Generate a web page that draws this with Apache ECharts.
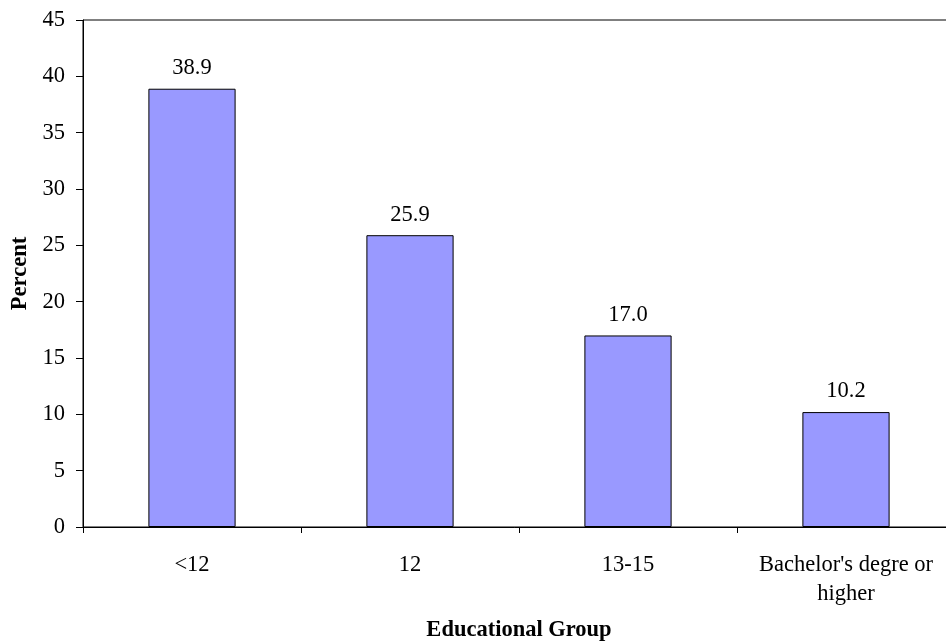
<!DOCTYPE html>
<html>
<head>
<meta charset="utf-8">
<script src="https://cdn.jsdelivr.net/npm/echarts@6/dist/echarts.min.js"></script>
<style>html,body{margin:0;padding:0;background:#fff;}#c{width:946px;height:642px;}</style>
</head>
<body>
<div id="c"></div>
<script>
const categories = ["<12", "12", "13-15", "Bachelor's degre or\nhigher"];
const values = [38.9, 25.9, 17.0, 10.2];
const yTicks = [0, 5, 10, 15, 20, 25, 30, 35, 40, 45];

const font = 'Liberation Serif';
const fs = 22.5;
const chart = echarts.init(document.getElementById('c'), null, {renderer: 'canvas'});
chart.setOption({
  animation: false,
  backgroundColor: '#fff',
  grid: {left: 83, top: 20, bottom: 115, right: -9, outerBoundsMode: 'none', containLabel: false,
    show: true, borderColor: '#000', borderWidth: 1, backgroundColor: 'transparent'},
  xAxis: {
    type: 'category',
    data: categories,
    name: 'Educational Group',
    nameLocation: 'middle',
    nameGap: 92,
    nameTextStyle: {fontFamily: font, fontWeight: 'bold', fontSize: fs, color: '#000'},
    axisLine: {show: true, lineStyle: {color: '#000', width: 1}},
    axisTick: {show: true, length: 6, lineStyle: {color: '#000'}},
    axisLabel: {fontFamily: font, fontSize: fs, color: '#000', margin: 24, lineHeight: 29, interval: 0}
  },
  yAxis: {
    type: 'value',
    min: yTicks[0],
    max: yTicks[yTicks.length - 1],
    interval: 5,
    name: 'Percent',
    nameLocation: 'middle',
    nameGap: 48,
    nameRotate: 90,
    nameTextStyle: {fontFamily: font, fontWeight: 'bold', fontSize: fs, color: '#000'},
    splitLine: {show: false},
    axisLine: {show: true, lineStyle: {color: '#000', width: 1}},
    axisTick: {show: true, length: 7, lineStyle: {color: '#000'}},
    axisLabel: {fontFamily: font, fontSize: fs, color: '#000', margin: 18}
  },
  series: [{
    type: 'bar',
    data: values,
    barWidth: '40%',
    itemStyle: {color: '#9999ff', borderColor: '#000', borderWidth: 1},
    label: {show: true, position: 'top', distance: 9, fontFamily: font, fontSize: fs, color: '#000',
      formatter: p => p.value.toFixed(1)}
  }]
});
</script>
</body>
</html>
